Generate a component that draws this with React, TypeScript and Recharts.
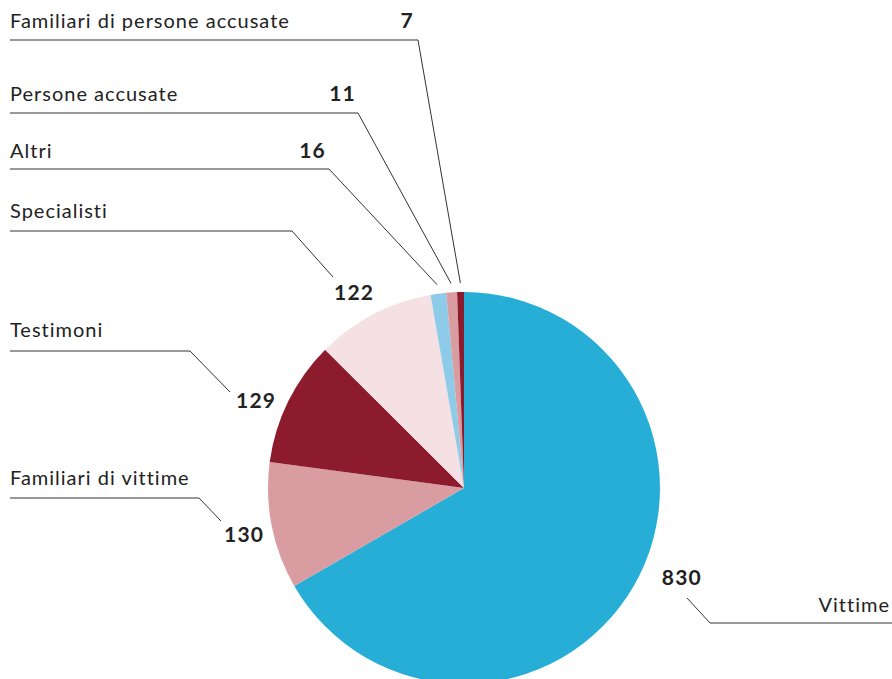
import React from 'react';
import { PieChart, Pie, Cell } from 'recharts';

const categories = [
  'Vittime',
  'Familiari di vittime',
  'Testimoni',
  'Specialisti',
  'Altri',
  'Persone accusate',
  'Familiari di persone accusate',
];
const values = [830, 130, 129, 122, 16, 11, 7];
const colors = ['#27aed7', '#d89ca1', '#8d1b2e', '#f5e1e3', '#8ecbe8', '#d89ca1', '#8d1b2e'];

const data = categories.map((name, i) => ({ name, value: values[i] }));

// label placement: number position, name position, leader line elbow points
const labelLayout: any[] = [
  { num: [702, 585, 'end'], name: [890, 612, 'end'], pts: [[687, 598], [710, 623], [892, 623]] },
  { num: [224, 542, 'start'], name: [10, 485, 'start'], pts: [[221, 521], [199, 498], [10, 498]] },
  { num: [236, 408, 'start'], name: [10, 337, 'start'], pts: [[230, 392], [190, 351], [10, 351]] },
  { num: [334, 300, 'start'], name: [10, 218, 'start'], pts: [[333, 277], [292, 231], [10, 231]] },
  { num: [326, 158, 'end'], name: [10, 158, 'start'], pts: [[329, 169], [10, 169]], fromSlice: true },
  { num: [356, 101, 'end'], name: [10, 101, 'start'], pts: [[358, 113], [10, 113]], fromSlice: true },
  { num: [414, 28, 'end'], name: [10, 28, 'start'], pts: [[418, 40], [10, 40]], fromSlice: true },
];

const RAD = Math.PI / 180;

const renderLabel = (props: any) => {
  const { index, cx, cy, midAngle, outerRadius, value, name } = props;
  const l = labelLayout[index];
  let pts = l.pts;
  if (l.fromSlice) {
    const r = outerRadius + 9;
    const sx = cx + r * Math.cos(-midAngle * RAD);
    const sy = cy + r * Math.sin(-midAngle * RAD);
    pts = [[sx, sy], ...pts];
  }
  const d = pts.map((p: number[], i: number) => `${i === 0 ? 'M' : 'L'}${p[0]},${p[1]}`).join(' ');
  return (
    <g key={`lbl-${index}`}>
      <path d={d} fill="none" stroke="#333" strokeWidth={1} />
      <text x={l.num[0]} y={l.num[1]} textAnchor={l.num[2]} fontSize={21} fontWeight={700} letterSpacing={1.2} fill="#222">
        {value}
      </text>
      <text x={l.name[0]} y={l.name[1]} textAnchor={l.name[2]} fontSize={20} letterSpacing={1} fill="#222">
        {name}
      </text>
    </g>
  );
};

export default function App() {
  return (
    <div style={{ position: 'absolute', left: 0, top: 0, width: 892, height: 679, background: '#fff', fontFamily: 'Lato, sans-serif' }}>
      <PieChart width={892} height={679} margin={{ top: 0, right: 0, bottom: 0, left: 0 }}>
        <Pie
          data={data}
          dataKey="value"
          nameKey="name"
          cx={464}
          cy={488}
          outerRadius={196}
          startAngle={90}
          endAngle={-270}
          stroke="none"
          label={renderLabel}
          labelLine={false}
          isAnimationActive={false}
        >
          {data.map((d, i) => (
            <Cell key={d.name} fill={colors[i]} />
          ))}
        </Pie>
      </PieChart>
    </div>
  );
}
